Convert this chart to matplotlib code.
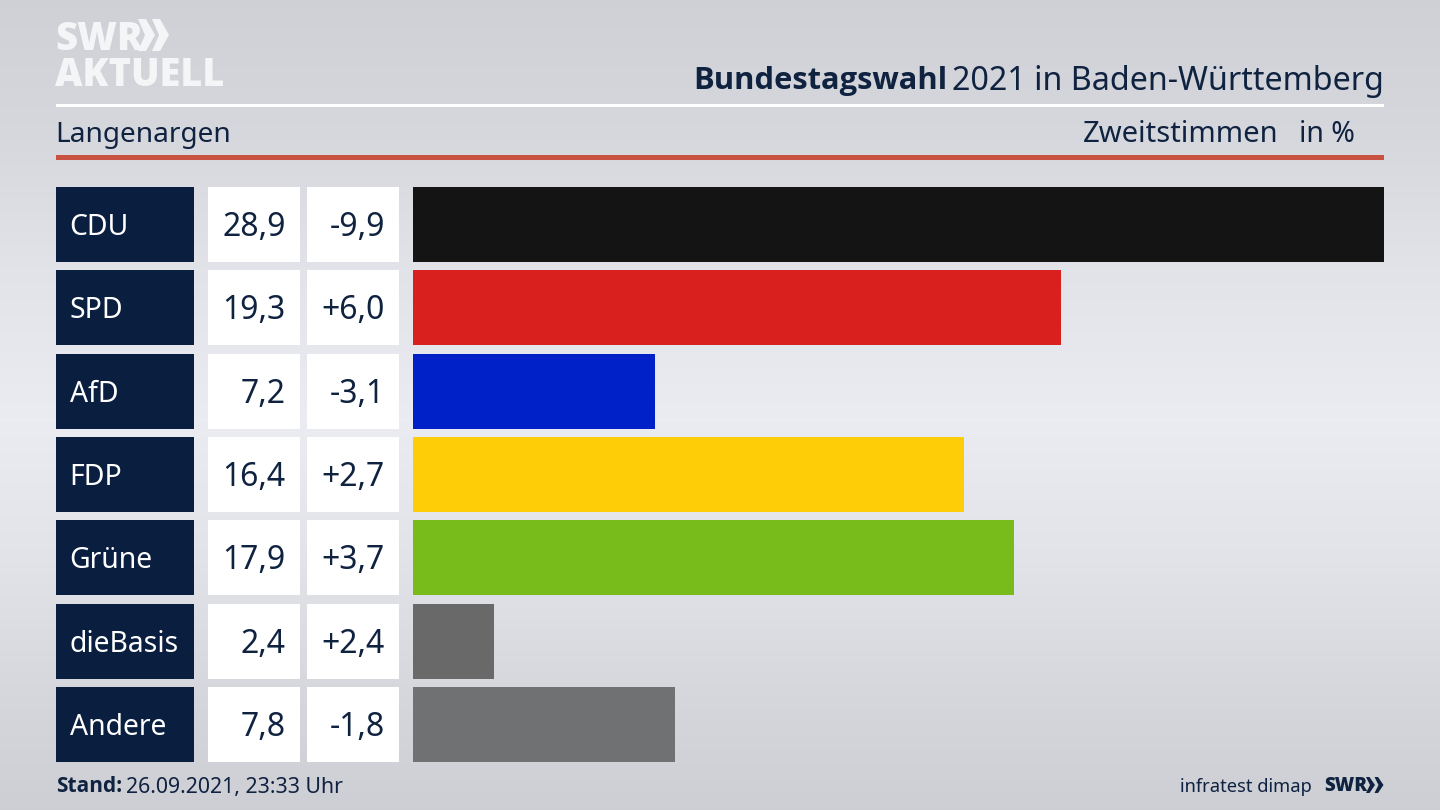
import numpy as np
import matplotlib
matplotlib.use("Agg")
import matplotlib.pyplot as plt
from matplotlib.patches import Rectangle, Polygon

parties = ["CDU", "SPD", "AfD", "FDP", "Grüne", "dieBasis", "Andere"]
shares = [28.9, 19.3, 7.2, 16.4, 17.9, 2.4, 7.8]
changes = ["-9,9", "+6,0", "-3,1", "+2,7", "+3,7", "+2,4", "-1,8"]
colors = ["#141414", "#da201f", "#0020c8", "#ffcc08", "#78bc1b", "#696969", "#707173"]

NAVY = "#0a1f40"
TEXT = "#0f2240"
plt.rcParams["font.family"] = ["Noto Sans", "DejaVu Sans"]

W, H = 1440, 810
fig = plt.figure(figsize=(W / 100, H / 100), dpi=100)

# page layer in pixel coordinates
bg = fig.add_axes([0, 0, 1, 1])
stops_y = [0, 130, 270, 420, 560, 700, 810]
stops_v = [0.812, 0.838, 0.885, 0.920, 0.885, 0.835, 0.805]
ramp = np.interp(np.arange(H), stops_y, stops_v)
rgb = np.stack([ramp, ramp + 0.006, ramp + 0.028], axis=1).clip(0, 1)[:, None, :]
bg.imshow(rgb, extent=(0, W, H, 0), aspect="auto", zorder=0)
bg.set_xlim(0, W)
bg.set_ylim(H, 0)
bg.axis("off")

# rules
bg.add_patch(Rectangle((56, 104), 1328, 3, fc="white", ec="none", zorder=1))
bg.add_patch(Rectangle((56, 155), 1328, 5, fc="#c8513f", ec="none", zorder=1))

# logo
LOGO = "#f4f5f7"
bg.text(55, 39, "SWR", color=LOGO, fontsize=27.5, fontweight=800, va="center", ha="left", family="Open Sans", zorder=2)
bg.text(55, 75, "AKTUELL", color=LOGO, fontsize=27.3, fontweight=800, va="center", ha="left", family="Open Sans", zorder=2)
for x0 in (138, 152):
    bg.add_patch(Polygon([(x0, 19), (x0 + 8, 19), (x0 + 17, 35), (x0 + 8, 51), (x0, 51), (x0 + 7, 35)],
                         fc=LOGO, ec="none", zorder=2))

# headings
bg.text(693, 81, "Bundestagswahl", color=TEXT, fontsize=22.2, fontweight="bold", family="Open Sans", va="center", ha="left")
bg.text(1384, 81, "2021 in Baden-Württemberg", color=TEXT, fontsize=23.2, va="center", ha="right")
bg.text(55.5, 135, "Langenargen", color=TEXT, fontsize=20.2, va="center", ha="left")
bg.text(1083, 135, "Zweitstimmen", color=TEXT, fontsize=21, va="center", ha="left")
bg.text(1355, 135, "in %", color=TEXT, fontsize=20.5, va="center", ha="right")

# table rows
top, pitch, row_h = 187, 83.33, 75
for i, (party, share, change) in enumerate(zip(parties, shares, changes)):
    y = top + i * pitch
    bg.add_patch(Rectangle((56, y), 138, row_h, fc=NAVY, ec="none", zorder=1))
    bg.add_patch(Rectangle((208, y), 92, row_h, fc="white", ec="none", zorder=1))
    bg.add_patch(Rectangle((307, y), 92, row_h, fc="white", ec="none", zorder=1))
    cy = y + row_h / 2
    bg.text(69.5, cy + 3, party, color="white", fontsize=20.4, va="center", ha="left", zorder=2)
    bg.text(285.5, cy + 3, f"{share:.1f}".replace(".", ","), color=TEXT, fontsize=23, va="center", ha="right", zorder=2)
    bg.text(385, cy + 3, change, color=TEXT, fontsize=23, va="center", ha="right", zorder=2)

# footer
bg.text(56, 787, "Stand:", color=TEXT, fontsize=15, fontweight="bold", family="Open Sans", va="center", ha="left")
bg.text(126, 788, "26.09.2021, 23:33 Uhr", color=TEXT, fontsize=15.3, va="center", ha="left")
bg.text(1312, 787, "infratest dimap", color=TEXT, fontsize=13.2, va="center", ha="right")
bg.text(1324, 786, "SWR", color=TEXT, fontsize=13.5, fontweight=800, va="center", ha="left", family="Open Sans")
for x0 in (1366, 1374.5):
    bg.add_patch(Polygon([(x0, 777), (x0 + 3.5, 777), (x0 + 9, 785), (x0 + 3.5, 793), (x0, 793), (x0 + 4, 785)],
                         fc=TEXT, ec="none", zorder=2))

# bars
ax = fig.add_axes([413 / W, 1 - 762 / H, (1384 - 413) / W, 575 / H])
ax.patch.set_alpha(0)
ax.barh(range(len(parties)), shares, height=0.9, color=colors, linewidth=0)
ax.set_xlim(0, 28.9)
ax.set_ylim(6.45, -0.45)
ax.axis("off")

fig.savefig("out.png", dpi=100)
